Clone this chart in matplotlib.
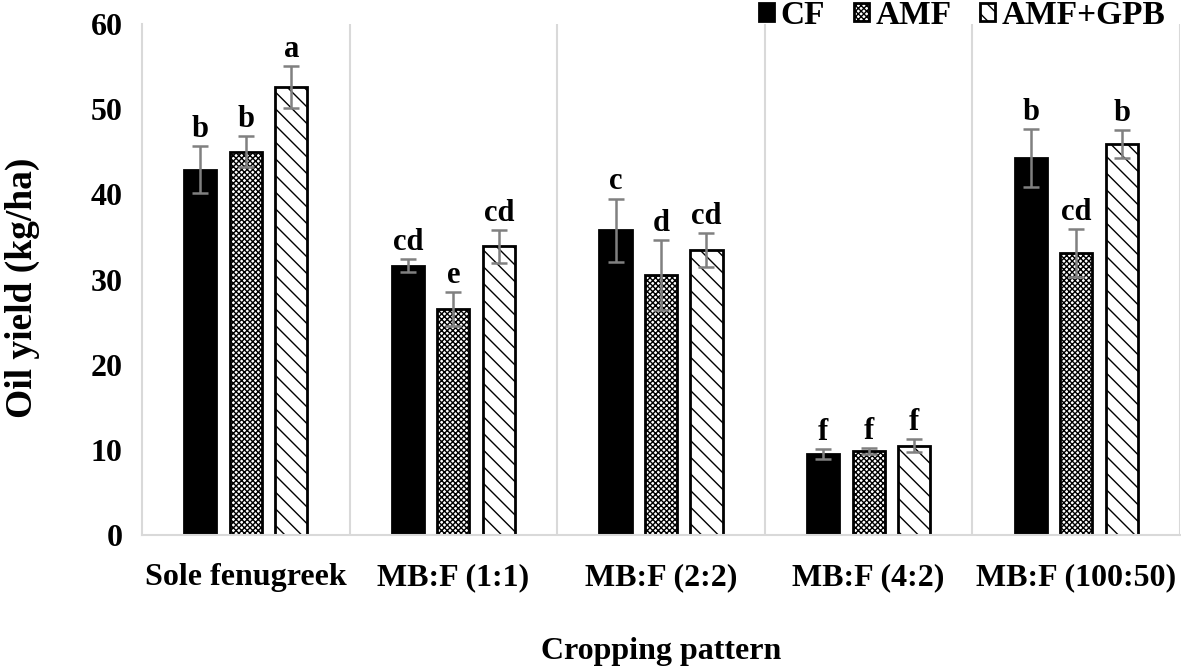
import numpy as np
import matplotlib
matplotlib.use("Agg")
import matplotlib.pyplot as plt

plt.rcParams['font.family'] = ['Liberation Serif', 'DejaVu Serif']
plt.rcParams['font.weight'] = 'bold'
plt.rcParams['hatch.linewidth'] = 1.0

# data
patterns = ['Sole fenugreek', 'MB:F (1:1)', 'MB:F (2:2)', 'MB:F (4:2)', 'MB:F (100:50)']
treatments = ['CF', 'AMF', 'AMF+GPB']
cf_vals = [42.9, 31.6, 35.8, 9.5, 44.3]
amf_vals = [45.0, 26.5, 30.5, 9.9, 33.1]
gpb_vals = [52.6, 33.9, 33.5, 10.5, 45.9]
cf_err = [2.8, 0.75, 3.7, 0.55, 3.4]
amf_err = [1.8, 2.0, 4.1, 0.35, 2.8]
gpb_err = [2.5, 1.95, 2.0, 0.75, 1.65]
cf_letters = ['b', 'cd', 'c', 'f', 'b']
amf_letters = ['b', 'e', 'd', 'f', 'cd']
gpb_letters = ['a', 'cd', 'cd', 'f', 'b']

fig = plt.figure(figsize=(11.81, 6.71), dpi=100)
ax = fig.add_axes([0.1202, 0.2027, 0.879, 0.7615])

x = np.arange(len(patterns))
offset = 0.219
width = 0.155

series = [
    (cf_vals, cf_err, cf_letters, dict(color='black', edgecolor='black', hatch=None)),
    (amf_vals, amf_err, amf_letters, dict(color='white', edgecolor='black', hatch='xxxxxx')),
    (gpb_vals, gpb_err, gpb_letters, dict(color='white', edgecolor='black', hatch='\\\\')),
]

for i, (vals, errs, letters, style) in enumerate(series):
    pos = x + (i - 1) * offset
    ax.bar(pos, vals, width, linewidth=2, label=treatments[i], zorder=2, **style)
    ax.errorbar(pos, vals, yerr=errs, fmt='none', ecolor='#808080',
                elinewidth=1.8, capsize=6, capthick=1.8, zorder=3)
    for p, v, e, t in zip(pos, vals, errs, letters):
        ax.text(p, v + e + 0.25, t, ha='center', va='bottom',
                fontsize=22, fontweight='bold')

ax.set_xlim(-0.5, len(patterns) - 0.5)
ax.set_ylim(0, 60)
ax.set_yticks(range(0, 61, 10))
ax.set_xticks(x)
ax.set_xticklabels(patterns)
ax.tick_params(axis='both', length=0, labelsize=23)
ax.tick_params(axis='x', pad=20)
ax.tick_params(axis='y', pad=14)
for lab in ax.get_xticklabels() + ax.get_yticklabels():
    lab.set_fontweight('bold')

# vertical separators between cropping patterns
for b in np.arange(0.5, len(patterns), 1.0):
    ax.axvline(b, color='#d9d9d9', linewidth=1.5, zorder=0)

for s in ['top', 'right']:
    ax.spines[s].set_visible(False)
for s in ['left', 'bottom']:
    ax.spines[s].set_color('#d9d9d9')
    ax.spines[s].set_linewidth(1.5)

ax.set_ylabel('Oil yield (kg/ha)', fontsize=27, fontweight='bold')
ax.yaxis.set_label_coords(-0.098, 0.483)
ax.set_xlabel('Cropping pattern', fontsize=23, fontweight='bold')
ax.xaxis.set_label_coords(0.5, -0.2)

fig.legend(loc='upper right', bbox_to_anchor=(1.012, 1.045), ncol=3, frameon=False,
           prop={'size': 24, 'weight': 'bold'}, handlelength=0.45, handleheight=0.45,
           handletextpad=0.2, columnspacing=0.85)

fig.savefig('out.png', dpi=100)
